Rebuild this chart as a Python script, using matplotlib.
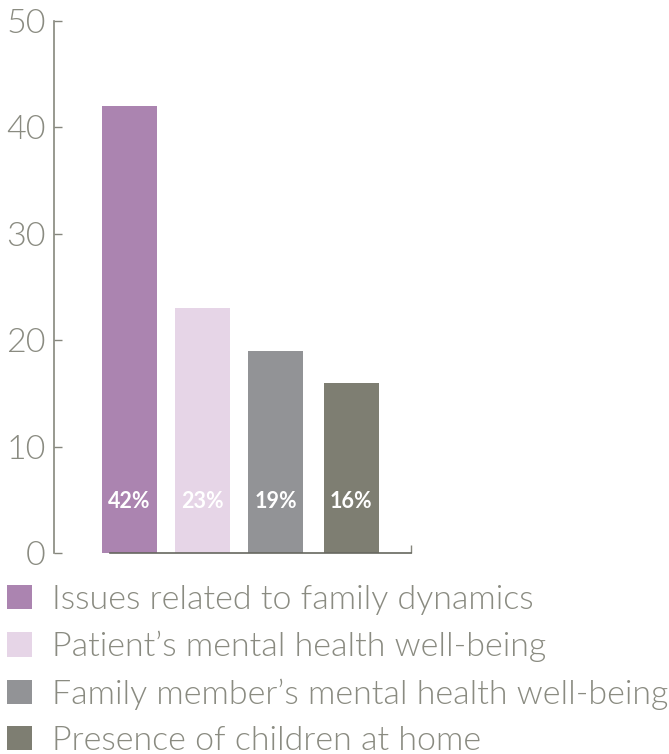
import matplotlib
matplotlib.use("Agg")
import matplotlib.pyplot as plt

categories = ["Issues related to family dynamics",
              "Patient\u2019s mental health well-being",
              "Family member\u2019s mental health well-being",
              "Presence of children at home"]
values = [42, 23, 19, 16]
bar_labels = ["42%", "23%", "19%", "16%"]
colors = ["#ab84b0", "#e6d5e7", "#929396", "#7e7e72"]
yticks = [0, 10, 20, 30, 40, 50]

axis_col = "#86877d"
text_col = "#8a8b81"

plt.rcParams['font.family'] = ['Lato', 'DejaVu Sans']

fig = plt.figure(figsize=(6.69, 7.54), dpi=100)
ax = fig.add_axes([54/669, 201/754, (411-54)/669, 532/754])

xpos = [0, 0.985, 1.97, 2.995]
bars = ax.bar(xpos, values, width=0.743, color=colors, label=categories)

for b, lab in zip(bars, bar_labels):
    ax.text(b.get_x() + b.get_width()/2, 4.8, lab, ha='center', va='center',
            color='white', fontsize=15.5, fontweight='bold')

ax.set_xlim(-1.02, 3.80)
ax.set_ylim(0, 50)
ax.set_yticks(yticks)
ax.set_yticklabels([str(t) for t in yticks], fontsize=24.5, fontweight=300, color=text_col)
ax.tick_params(axis='y', direction='in', length=6, width=1, color=axis_col, pad=6)
ax.set_xticks([3.80])
ax.set_xticklabels([])
ax.tick_params(axis='x', direction='in', length=6, width=1, color=axis_col)

for s in ['top', 'right']:
    ax.spines[s].set_visible(False)
ax.spines['left'].set_color(axis_col)
ax.spines['left'].set_linewidth(1.2)
ax.spines['bottom'].set_color("#66675f")
ax.spines['bottom'].set_linewidth(1.2)
ax.spines['bottom'].set_bounds(-0.26, 3.80)

leg = fig.legend(handles=bars, labels=categories, loc='upper left',
                 bbox_to_anchor=(0.0, 1 - 578/754), frameon=False,
                 fontsize=24.5, handlelength=0.735, handleheight=0.735,
                 handletextpad=0.59, labelspacing=0.47, borderaxespad=0,
                 borderpad=0.2)
for t in leg.get_texts():
    t.set_color(text_col)
    t.set_fontweight(300)

fig.savefig("out.png", dpi=100)
